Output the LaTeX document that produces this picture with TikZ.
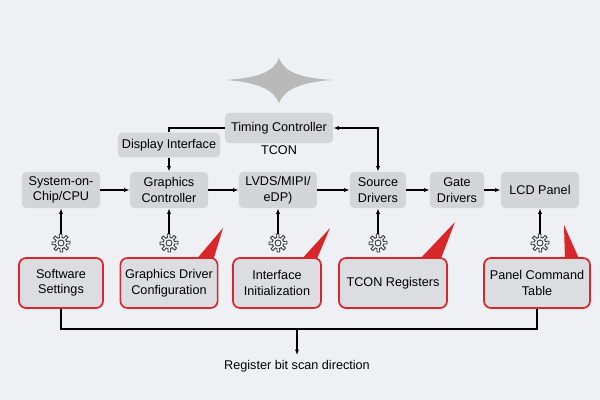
\documentclass[tikz,border=0pt]{standalone}
\usepackage{fontspec}
\setmainfont{Liberation Sans}
\usepackage{tikz}
\usetikzlibrary{arrows.meta,positioning,calc}
\definecolor{bgcol}{HTML}{EEF0F3}
\definecolor{boxcol}{HTML}{D3D5D9}
\definecolor{regred}{HTML}{D8262A}
\tikzstyle{block} = [rectangle, rounded corners=3pt, fill=boxcol, align=center, font=\small, inner sep=2pt]
\tikzstyle{reg} = [rectangle, rounded corners=5pt, draw=regred, line width=1.2pt, fill=boxcol!80, align=center, font=\small, minimum height=1.25cm]
\tikzstyle{gear} = [circle, minimum size=0.45cm, inner sep=0pt]
\tikzstyle{link} = [-{Latex[length=4pt]}, thick]
\begin{document}
\begin{tikzpicture}[x=0.025cm,y=-0.025cm]
    \fill[bgcol] (0,0) rectangle (600,400);
    % decorative shape
    \fill[gray!55] (279,58) .. controls (284,72) and (300,78) .. (333,80)
        .. controls (300,82) and (284,90) .. (279,103)
        .. controls (274,90) and (258,82) .. (225,80)
        .. controls (258,78) and (274,72) .. (279,58);
    % top row
    \node[block, minimum width=1.95cm, minimum height=0.9cm] (soc) at (61,190) {System-on-\\Chip/CPU};
    \node[block, minimum width=1.95cm, minimum height=0.9cm] (gc) at (169,190) {Graphics\\Controller};
    \node[block, minimum width=1.95cm, minimum height=0.9cm] (lvds) at (278,190) {LVDS/MIPI/\\eDP)};
    \node[block, minimum width=1.4cm, minimum height=0.9cm] (src) at (378,190) {Source\\Drivers};
    \node[block, minimum width=1.35cm, minimum height=0.9cm] (gate) at (457,190) {Gate\\Drivers};
    \node[block, minimum width=1.95cm, minimum height=0.9cm] (lcd) at (540,190) {LCD Panel};
    \draw[link] (soc) -- (gc);
    \draw[link] (gc) -- (lvds);
    \draw[link] (lvds) -- (src);
    \draw[link] (src) -- (gate);
    \draw[link] (gate) -- (lcd);
    \node[block, minimum width=2.7cm, minimum height=0.75cm] (tc) at (279,128) {Timing Controller};
    \node[font=\small] (tcon) at (279,150) {TCON};
    \node[block, minimum width=2.55cm, minimum height=0.62cm] (di) at (169,145) {Display Interface};
    \draw[thick] (tc.west) -| (di.north);
    \draw[link] (di) -- (gc);
    \draw[{Latex[length=4pt]}-{Latex[length=4pt]}, thick] (tc.east) -| (src.north);
    % gears and register boxes
    \foreach \nm/\x in {soc/61, gc/169, lvds/278, src/378, lcd/540} {
        \node[gear] (g\nm) at (\x,243) {};
        \draw[black!80, line width=0.6pt, shift={(g\nm)}]
            plot[variable=\t, domain=0:360, samples=65] (\t:{7.3+1.7*sign(cos(8*\t+1))}) -- cycle
            (0,0) circle (3);
        \draw[link] (g\nm) -- (\nm);
    }
    \fill[regred] (195,261) -- (223,228) -- (213,261) -- cycle;
    \fill[regred] (300,261) -- (330,228) -- (316,261) -- cycle;
    \fill[regred] (418,261) -- (455,222) -- (440,261) -- cycle;
    \fill[regred] (565,261) -- (564,225) -- (580,261) -- cycle;
    \node[reg, minimum width=2.1cm] (sw) at (61,283) {Software\\Settings};
    \node[reg, minimum width=2.35cm] (gdc) at (169,283) {Graphics Driver\\Configuration};
    \node[reg, minimum width=2.2cm] (ii) at (277,283) {Interface\\Initialization};
    \node[reg, minimum width=2.7cm] (tr) at (393,283) {TCON Registers};
    \node[reg, minimum width=2.65cm] (pct) at (537,283) {Panel Command\\Table};
    % scan direction
    \coordinate (mid) at (297,329);
    \draw[thick] (sw.south) |- (mid) -| (pct.south);
    \node[font=\small] (scan) at (297,366) {Register bit scan direction};
    \draw[link] (mid) -- (scan.north);
\end{tikzpicture}
\end{document}
